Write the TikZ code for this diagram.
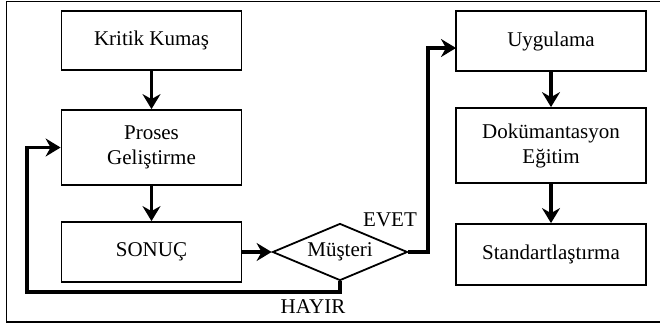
\documentclass[tikz,border=0pt]{standalone}
\usepackage{fontspec}
\setmainfont{Liberation Serif}
\usetikzlibrary{shapes.geometric,arrows.meta}
\begin{document}
\begin{tikzpicture}[x=1pt,y=-1pt,
  font=\fontsize{21}{25}\selectfont,
  box/.style={draw,line width=1.8pt,inner sep=0pt,align=center,minimum width=180pt},
  flow/.style={line width=3.6pt,-{Stealth[length=15pt,width=18pt,inset=5pt]}}]
  \useasboundingbox (0,0) rectangle (660,330);
  % outer frame, open to the right
  \draw[line width=1.6pt] (662,1.5) -- (6.5,1.5) -- (6.5,322) -- (662,322);

  % left column
  \node[box,minimum height=59pt] (kk) at (151.5,40.5) {Kritik Kumaş};
  \node[box,minimum height=75pt] (pg) at (151.5,147.5) {Proses\\Geliştirme};
  \node[box,minimum height=60pt] (so) at (151.5,252) {SONUÇ};

  % decision
  \node[draw,line width=1.8pt,shape=diamond,aspect=2.37,inner sep=0pt,
        minimum width=135pt,minimum height=57pt] (mu) at (340,252) {Müşteri};

  % right column
  \node[box,minimum width=190pt,minimum height=60pt] (uy) at (551,41) {Uygulama};
  \node[box,minimum width=190pt,minimum height=75pt] (de) at (551,145.5) {Dokümantasyon\\Eğitim};
  \node[box,minimum width=190pt,minimum height=61pt] (st) at (551,254.5) {Standartlaştırma};

  % route points
  \coordinate (yesturn) at (428,252);
  \coordinate (yesin) at (456,48);
  \coordinate (nodown) at (340,292);
  \coordinate (noleft) at (27,292);

  \draw[flow] (kk.south) -- (pg.north);
  \draw[flow] (pg.south) -- (so.north);
  \draw[flow] (so.east) -- (mu.west);
  \draw[flow] (mu.east) -- (yesturn) |- (yesin);
  \draw[flow] (mu.south) -- (nodown) -- (noleft) |- (pg.west);
  \draw[flow] (uy.south) -- (de.north);
  \draw[flow] (de.south) -- (st.north);

  % branch labels
  \node (evet) at (390,220) {EVET};
  \node (hayir) at (313,307) {HAYIR};
\end{tikzpicture}
\end{document}
